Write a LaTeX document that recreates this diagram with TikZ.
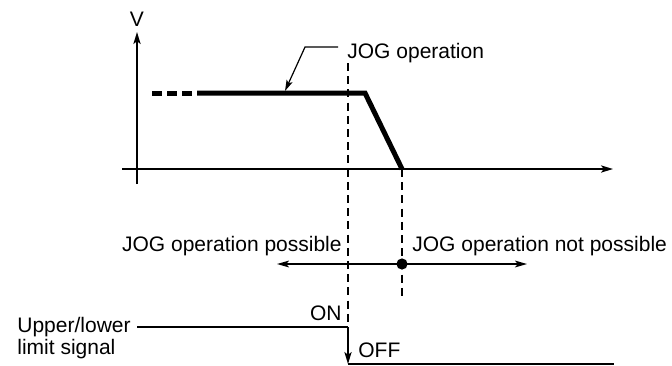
\documentclass[tikz,border=0pt]{standalone}
\usepackage{fontspec}
\setmainfont{Liberation Sans}
\usetikzlibrary{
  arrows.meta,
  positioning
}
\tikzset{
  jogText/.style={
    font=\fontsize{10.5}{11}\selectfont,
    inner sep=0pt
  },
  axisArrow/.style={-{Stealth[length=6pt,width=3.6pt,inset=1.4pt]}, line width=0.8pt},
  rangeArrow/.style={-{Stealth[length=6pt,width=3.4pt,inset=1.4pt]}, line width=0.8pt},
  leaderArrow/.style={-{Stealth[length=5.5pt,width=3.2pt,inset=1.2pt]}, line width=0.6pt},
  speedLine/.style={line width=2.5pt, line join=miter},
  speedDash/.style={line width=2.5pt, dash pattern=on 5pt off 2.5pt},
  guideLine/.style={line width=0.6pt, dash pattern=on 4pt off 2.6pt},
  signalLine/.style={line width=0.8pt},
  switchPoint/.style={circle, fill=black, inner sep=0pt, minimum size=5.6pt}
}

\begin{document}
\begin{tikzpicture}[x=0.5pt,y=-0.5pt]
  \useasboundingbox (0,0) rectangle (672,365);

  % speed axes
  \draw[axisArrow] (137,184) -- (137,32) coordinate (vTip);
  \draw[axisArrow] (122,169) -- (613,169);
  \node[jogText, above=2.5pt of vTip] (vLabel) {V};

  % speed profile
  \draw[speedDash] (152,93) -- (192,93);
  \draw[speedLine] (197,93) -- (365,93) -- (402,169);

  % timing guides
  \draw[guideLine] (348,63) -- (348,327);
  \draw[guideLine] (402,169) -- (402,297);

  % leader to profile
  \node[jogText, anchor=base west] (jogLabel) at (347,58) {JOG operation};
  \coordinate (leadTip) at (285,91);
  \draw[leaderArrow] ([xshift=-4.5pt,yshift=2.75pt]jogLabel.west) -- ++(-33,0) -- (leadTip);

  % possible / not possible range
  \node[jogText, anchor=base east] (possible) at (342,251) {JOG operation possible};
  \node[jogText, anchor=base west] (notPossible) at (412,251) {JOG operation not possible};
  \coordinate (possibleEnd) at (277,264);
  \coordinate (notPossibleEnd) at (527,264);
  \node[switchPoint] (stopPoint) at (402,264) {};
  \draw[rangeArrow] (stopPoint.center) -- (possibleEnd);
  \draw[rangeArrow] (stopPoint.center) -- (notPossibleEnd);

  % limit signal
  \node[jogText, anchor=base west, align=left] (signalLabel) at (17,354)
    {Upper/lower\\limit signal};
  \draw[signalLine] (137,327) -- (348,327) coordinate (onEnd);
  \draw[axisArrow] (onEnd) -- (348,364) coordinate (offStart);
  \draw[signalLine] (offStart) -- (614,364);
  \node[jogText, anchor=base east] (onLabel) at (342,320) {ON};
  \node[jogText, anchor=base west] (offLabel) at (358,357) {OFF};
\end{tikzpicture}
\end{document}
